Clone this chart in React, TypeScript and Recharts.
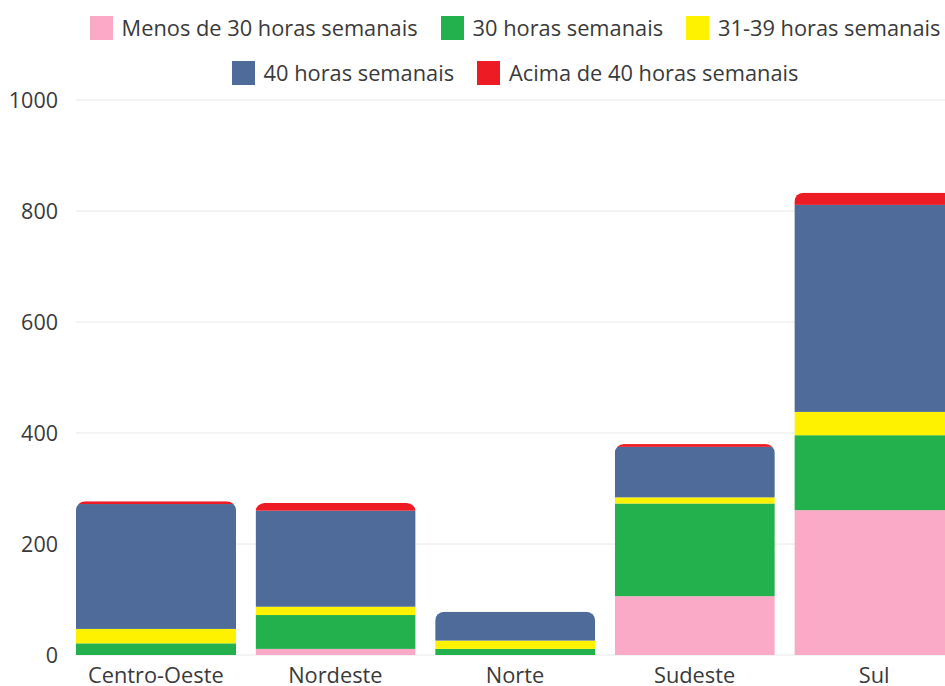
import React from 'react';
import { BarChart, Bar, XAxis, YAxis, CartesianGrid, Legend } from 'recharts';

const regions = ['Centro-Oeste', 'Nordeste', 'Norte', 'Sudeste', 'Sul'];
const menos30 = [0, 11, 0, 106, 261];
const h30 = [21, 61, 11, 167, 135];
const h31a39 = [26, 15, 15, 11, 42];
const h40 = [225, 173, 52, 91, 373];
const acima40 = [5, 14, 0, 5, 22];
const yTicks = [0, 200, 400, 600, 800, 1000];

const series = [
  { key: 'menos30', name: 'Menos de 30 horas semanais', color: '#FAAAC7', values: menos30 },
  { key: 'h30', name: '30 horas semanais', color: '#22B14C', values: h30 },
  { key: 'h31a39', name: '31-39 horas semanais', color: '#FFF200', values: h31a39 },
  { key: 'h40', name: '40 horas semanais', color: '#4E6B99', values: h40 },
  { key: 'acima40', name: 'Acima de 40 horas semanais', color: '#ED1C24', values: acima40 },
];

const data = regions.map((region, i) => {
  const row: Record<string, any> = { region };
  series.forEach(s => { row[s.key] = s.values[i]; });
  return row;
});

const FONT = '"Open Sans", sans-serif';
const TEXT = '#3a3a3a';

// rounds the top of the whole stack, not just the top segment
const makeShape = (idx: number, color: string) => (props: any) => {
  const { x, y, width, height, payload, index } = props;
  if (!height || height <= 0) return <g />;
  const vals = series.map(s => payload[s.key] || 0);
  const low = vals.slice(0, idx).reduce((a, b) => a + b, 0);
  const high = low + vals[idx];
  const total = vals.reduce((a, b) => a + b, 0);
  const k = height / (high - low);
  const top = y - (total - high) * k;
  const id = `clip-${idx}-${index}`;
  return (
    <g>
      <defs>
        <clipPath id={id}>
          <rect x={x} y={top} width={width} height={y + height - top + 30} rx={9} ry={9} />
        </clipPath>
      </defs>
      <rect x={x} y={y} width={width} height={height} fill={color} clipPath={`url(#${id})`} />
    </g>
  );
};

const rows = [series.slice(0, 3), series.slice(3)];

const renderLegend = () => (
  <div style={{ height: 100, paddingTop: 5, boxSizing: 'border-box', fontFamily: FONT, fontSize: 21.8, color: TEXT }}>
    {rows.map((row, r) => (
      <div key={r} style={{ height: 45, display: 'flex', justifyContent: 'center', alignItems: 'center' }}>
        {row.map((s, i) => (
          <div key={s.key} style={{ display: 'flex', alignItems: 'center', marginLeft: i === 0 ? 0 : 23 }}>
            <span style={{ display: 'inline-block', width: 23, height: 24, background: s.color, marginRight: 9 }} />
            <span style={{ whiteSpace: 'nowrap' }}>{s.name}</span>
          </div>
        ))}
      </div>
    ))}
  </div>
);

export default function App() {
  return (
    <div style={{ position: 'absolute', left: 0, top: 0, width: 945, height: 686, overflow: 'hidden', background: '#fff' }}>
      <BarChart width={964} height={686} data={data} margin={{ top: 0, right: 0, left: 0, bottom: 0 }}>
        <CartesianGrid vertical={false} stroke="#e8e8e8" x={76} width={900} />
        <XAxis
          dataKey="region"
          height={31}
          tickLine={false}
          axisLine={false}
          interval={0}
          tickMargin={7}
          tick={{ fill: TEXT, fontSize: 21.8, fontFamily: FONT }}
        />
        <YAxis
          width={66}
          domain={[0, 1000]}
          ticks={yTicks}
          tickLine={false}
          axisLine={false}
          tick={{ fill: TEXT, fontSize: 21.5, fontFamily: FONT }}
        />
        <Legend verticalAlign="top" content={renderLegend} wrapperStyle={{ left: 66, width: 898, top: 0 }} />
        {series.map((s, idx) => (
          <Bar
            key={s.key}
            dataKey={s.key}
            name={s.name}
            stackId="a"
            fill={s.color}
            barSize={160}
            isAnimationActive={false}
            shape={makeShape(idx, s.color)}
          />
        ))}
      </BarChart>
    </div>
  );
}
